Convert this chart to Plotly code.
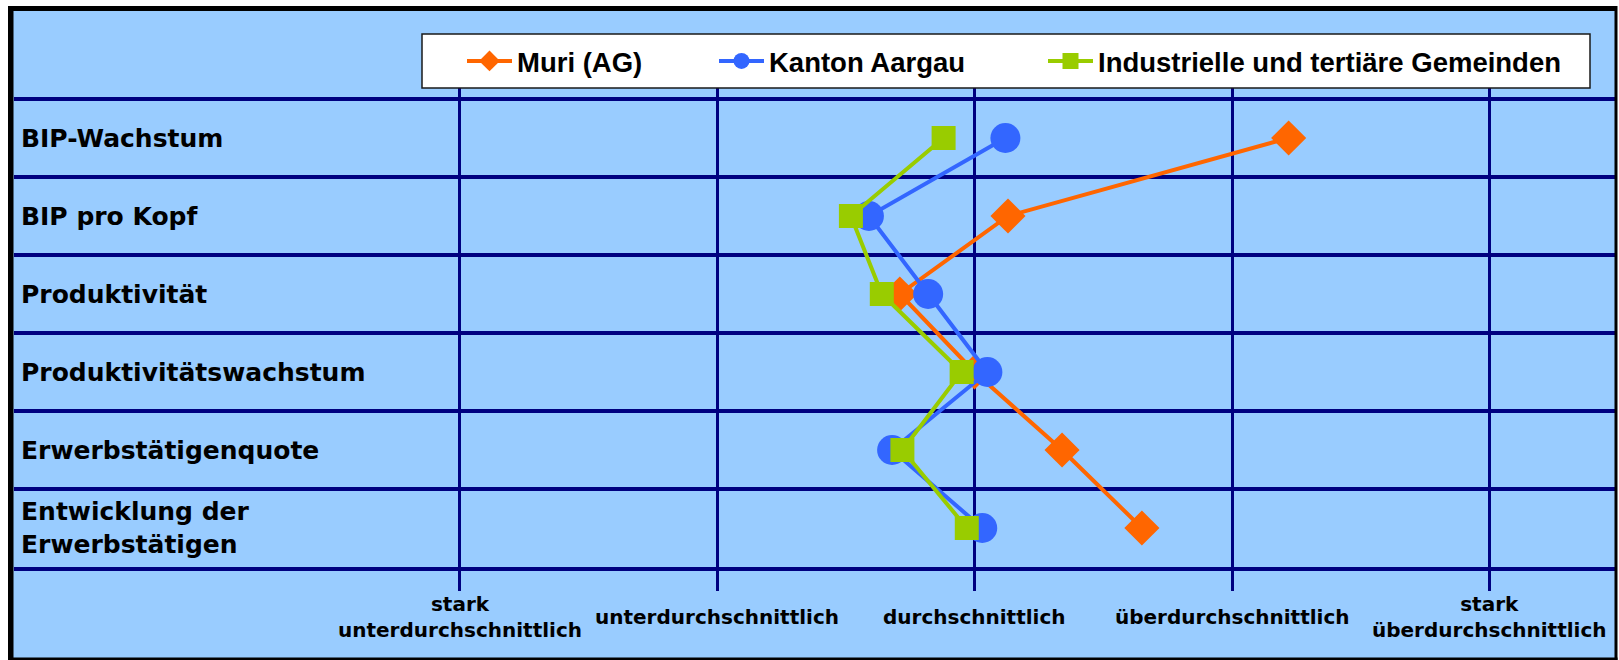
import plotly.graph_objects as go

# ---------------- data ----------------
categories = [
    "BIP-Wachstum",
    "BIP pro Kopf",
    "Produktivität",
    "Produktivitätswachstum",
    "Erwerbstätigenquote",
    "Entwicklung der<br>Erwerbstätigen",
]
series_names = ["Muri (AG)", "Kanton Aargau", "Industrielle und tertiäre Gemeinden"]
muri = [1.22, 0.13, -0.29, 0.00, 0.34, 0.65]
aargau = [0.12, -0.41, -0.18, 0.05, -0.32, 0.03]
industrielle = [-0.12, -0.48, -0.36, -0.05, -0.28, -0.03]

x_tickvals = [-2, -1, 0, 1, 2]
x_ticklabels = [
    "stark<br>unterdurchschnittlich",
    "unterdurchschnittlich",
    "durchschnittlich",
    "überdurchschnittlich",
    "stark<br>überdurchschnittlich",
]

# ---------------- geometry helpers ----------------
W, H = 1619, 660
PL, PR, PT, PB = 14, 1615, 88, 567  # plot area in px


def px_x(px):
    return (px - PL) / (PR - PL)


def px_y(py):
    return (PB - py) / (PB - PT)


NAVY = "#000080"
BG = "#99CCFF"
colors = ["#FF6600", "#3366FF", "#99CC00"]
symbols = ["diamond", "circle", "square"]
sizes = [27, 30, 24]
values = [muri, aargau, industrielle]

ypos = list(range(len(categories)))
row_px = 78.0
y_top = -0.5 - (99 - PT) / row_px

fig = go.Figure()
legend_ids = ["legend", "legend2", "legend3"]
for name, vals, c, s, sz, lg in zip(series_names, values, colors, symbols, sizes, legend_ids):
    fig.add_trace(go.Scatter(
        x=vals, y=ypos, name=name, mode="lines+markers",
        line=dict(color=c, width=4),
        marker=dict(symbol=s, size=sz, color=c, line=dict(width=0)),
        legend=lg, hoverinfo="skip",
    ))

legend_font = dict(family="Liberation Sans", size=27.5, color="black", weight="bold")
legend_lefts = [462, 714, 1043]
legend_common = dict(orientation="h", bgcolor="rgba(0,0,0,0)", borderwidth=0,
                     font=legend_font, xanchor="left", yanchor="middle",
                     y=px_y(61), itemwidth=45)

annotations = []
for i, cat in enumerate(categories):
    annotations.append(dict(
        x=0, xref="paper", y=ypos[i], yref="y", text=cat, showarrow=False,
        xanchor="left", yanchor="middle", xshift=5, align="left",
        font=dict(family="DejaVu Sans", size=25, color="black", weight="bold"),
    ))
for tv, tl in zip(x_tickvals, x_ticklabels):
    annotations.append(dict(
        x=tv, xref="x", y=px_y(617), yref="paper", text=tl, showarrow=False,
        xanchor="center", yanchor="middle", align="center",
        font=dict(family="DejaVu Sans", size=20, color="black", weight="bold"),
    ))


def rect(x0, y0, x1, y1, **kw):
    return dict(type="rect", xref="paper", yref="paper",
                x0=px_x(x0), x1=px_x(x1), y0=px_y(y0), y1=px_y(y1), **kw)


shapes = [
    rect(8, 6, 1617, 660, fillcolor=BG, line=dict(width=0), layer="below"),
    # legend box
    rect(422, 34, 1590, 88, fillcolor="white", line=dict(color="#1a1a1a", width=1.5), layer="above"),
    # border
    rect(8, 6, 1617, 11, fillcolor="black", line=dict(width=0), layer="above"),
    rect(8, 6, 13.5, 660, fillcolor="black", line=dict(width=0), layer="above"),
    rect(1614.5, 6, 1617.5, 660, fillcolor="black", line=dict(width=0), layer="above"),
    rect(8, 657.5, 1617.5, 660, fillcolor="black", line=dict(width=0), layer="above"),
]

x_left = 0 - (974.5 - PL) / 257.5
x_right = 0 + (PR - 974.5) / 257.5

fig.update_layout(
    width=W, height=H,
    margin=dict(l=PL, r=W - PR, t=PT, b=H - PB, pad=0),
    paper_bgcolor="white", plot_bgcolor=BG,
    showlegend=True,
    legend=dict(x=px_x(legend_lefts[0]), **legend_common),
    legend2=dict(x=px_x(legend_lefts[1]), **legend_common),
    legend3=dict(x=px_x(legend_lefts[2]), **legend_common),
    xaxis=dict(range=[x_left, x_right], tickmode="array", tickvals=x_tickvals,
               showticklabels=False, showgrid=True, gridcolor=NAVY, gridwidth=3,
               zeroline=False, ticks="outside", ticklen=20, tickwidth=3, tickcolor=NAVY,
               showline=True, linecolor=NAVY, linewidth=4, fixedrange=True),
    yaxis=dict(range=[len(categories) - 0.5, y_top], tickmode="array",
               tickvals=[i - 0.5 for i in range(len(categories) + 1)],
               showticklabels=False, showgrid=True, gridcolor=NAVY, gridwidth=4,
               zeroline=False, ticks="", showline=False, fixedrange=True),
    annotations=annotations,
    shapes=shapes,
)

fig.write_html(
    "out.html",
    config={"displayModeBar": False},
    post_script="document.body.style.margin='0px';document.body.style.overflow='hidden';",
)
